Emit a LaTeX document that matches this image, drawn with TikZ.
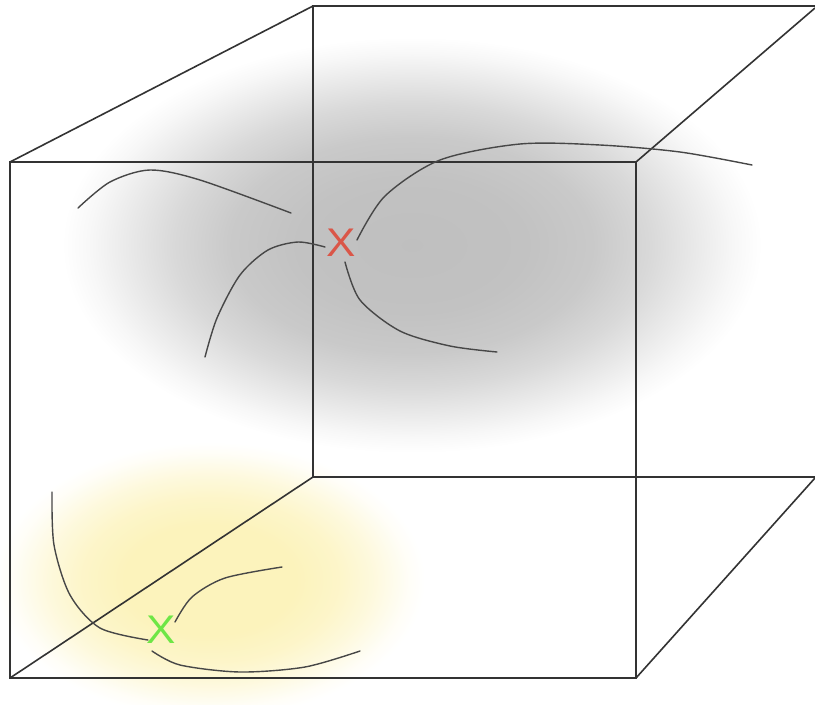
\documentclass[tikz,border=0pt]{standalone}
\usepackage{fontspec}
\setmainfont{Liberation Sans}
\definecolor{yel}{RGB}{252,243,188}
\definecolor{xred}{RGB}{218,86,72}
\definecolor{xgreen}{RGB}{110,230,70}
\pgfdeclareradialshading{grayblob}{\pgfpoint{0bp}{0bp}}{color(0bp)=(black!25); color(8bp)=(black!24); color(13bp)=(black!21); color(17bp)=(black!15); color(20bp)=(black!9); color(23bp)=(black!3); color(25bp)=(white); color(50bp)=(white)}
\pgfdeclareradialshading{yellowblob}{\pgfpoint{0bp}{0bp}}{color(0bp)=(yel); color(10bp)=(yel); color(15bp)=(yel!80); color(19bp)=(yel!50); color(23bp)=(yel!12); color(25bp)=(white); color(50bp)=(white)}
\tikzset{
  edge/.style={draw=black!80, line width=1.6pt},
  strand/.style={draw=black!72, line width=1.4pt, line cap=round},
  mark X/.style={font=\fontsize{40}{40}\selectfont, inner sep=0pt, xscale=1.1}
}
\begin{document}
\begin{tikzpicture}[x=1pt,y=-1pt]
\useasboundingbox (0,0) rectangle (815,705);
\fill[white] (0,0) rectangle (815,705);
% blurred clouds
\shade[shading=grayblob] (412,245) ellipse [x radius=350, y radius=208];
\shade[shading=yellowblob] (210,580) ellipse [x radius=215, y radius=138];
% cube
\coordinate (ftl) at (10,162);
\coordinate (ftr) at (636,162);
\coordinate (fbr) at (636,678);
\coordinate (fbl) at (10,678);
\coordinate (btl) at (313,6);
\coordinate (btr) at (815,6);
\coordinate (bbl) at (313,477);
\coordinate (bbr) at (815,477);
\coordinate (dtr) at (815,8);
\coordinate (dbr) at (815,478);
\begin{scope}
\clip (0,0) rectangle (815,705);
\path[edge] (ftl) -- (ftr) -- (fbr) -- (fbl) -- cycle;
\path[edge] (btr) -- (btl) -- (bbl) -- (bbr);
\path[edge] (ftl) -- (btl);
\path[edge] (ftr) -- (dtr);
\path[edge] (fbr) -- (dbr);
\path[edge] (fbl) -- (bbl);
\end{scope}
% strands, upper cluster
\draw[strand] plot[smooth] coordinates {(78,208) (110,182) (150,170) (200,180) (291,213)};
\draw[strand] plot[smooth] coordinates {(325,247) (298,242) (268,250) (240,275) (217,318) (205,357)};
\draw[strand] plot[smooth] coordinates {(357,240) (385,196) (440,160) (520,144) (600,145) (680,152) (752,165)};
\draw[strand] plot[smooth] coordinates {(345,262) (360,300) (400,331) (450,346) (497,352)};
% strands, lower cluster
\draw[strand] plot[smooth] coordinates {(52,492) (54,545) (70,595) (100,628) (148,640)};
\draw[strand] plot[smooth] coordinates {(175,622) (192,597) (225,578) (282,567)};
\draw[strand] plot[smooth] coordinates {(152,651) (180,665) (240,672) (305,667) (360,651)};
% marks
\node[mark X, text=xred, draw=none, line width=0.8pt] (redx) at (341,243) {X};
\node[mark X, text=xgreen] (greenx) at (161,630) {X};
\end{tikzpicture}
\end{document}
